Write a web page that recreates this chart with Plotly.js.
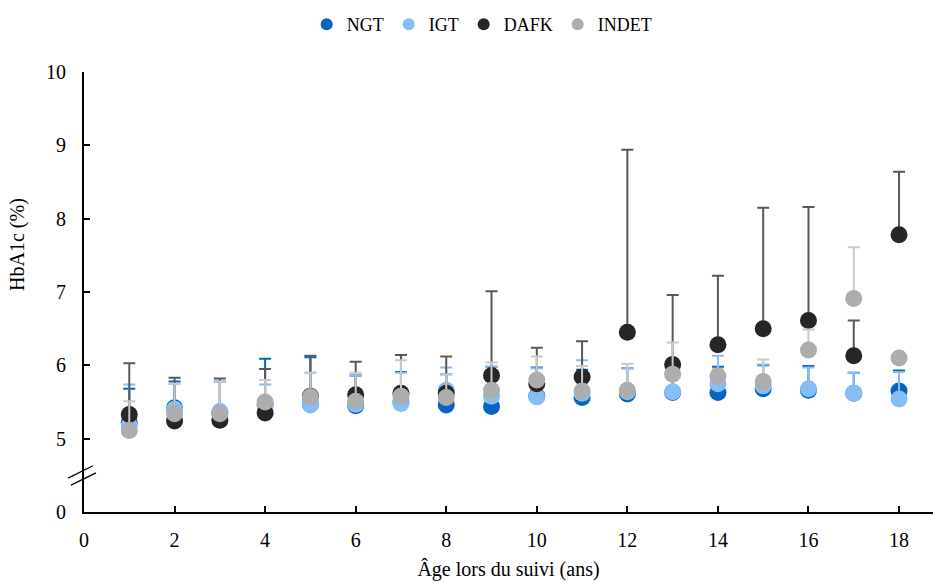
<!DOCTYPE html>
<html>
<head>
<meta charset="utf-8">
<script src="https://cdn.plot.ly/plotly-3.0.1.min.js"></script>
<style>html,body{margin:0;padding:0;background:#fff;}#chart{width:933px;height:582px;}</style>
</head>
<body>
<div id="chart"></div>
<script>
// Ages (x)
const ages = [1,2,3,4,5,6,7,8,9,10,11,12,13,14,15,16,17,18];

// Mean HbA1c (%) per group
const ngt   = [5.22,5.42,5.35,5.46,5.47,5.45,5.50,5.46,5.44,5.58,5.56,5.61,5.63,5.63,5.68,5.66,5.62,5.65];
const igt   = [5.18,5.40,5.37,5.45,5.46,5.47,5.48,5.66,5.58,5.57,5.62,5.64,5.64,5.75,5.72,5.68,5.62,5.54];
const dafk  = [5.33,5.24,5.25,5.35,5.58,5.60,5.62,5.62,5.86,5.75,5.84,6.45,6.01,6.28,6.50,6.61,6.13,7.78];
const indet = [5.11,5.34,5.34,5.50,5.57,5.51,5.58,5.56,5.66,5.80,5.65,5.66,5.88,5.85,5.78,6.21,6.91,6.10];

// Upper error (SD) per group
const ngtErr   = [0.46,0.36,0.43,0.63,0.64,0.41,0.41,0.42,0.54,0.39,0.38,0.35,0.27,0.35,0.32,0.33,0.28,0.28];
const igtErr   = [0.56,0.35,0.41,0.29,0.44,0.39,0.42,0.31,0.40,0.39,0.45,0.32,0.26,0.38,0.29,0.29,0.28,0.37];
const dafkErr  = [0.70,0.59,0.57,0.60,0.55,0.45,0.52,0.50,1.15,0.49,0.49,2.49,0.95,0.94,1.65,1.55,0.48,0.86];
const indetErr = [0.40,0.41,0.44,0.30,0.33,0.39,0.49,0.32,0.38,0.32,0.34,0.36,0.43,0.10,0.30,0.28,0.70,0.00];

// Axis ticks (broken axis: the bottom tick is labelled 0)
const yTickVals = [4,5,6,7,8,9,10];
const yTickText = ["0","5","6","7","8","9","10"];
const xTickVals = [0,2,4,6,8,10,12,14,16,18];

const FONT = "Liberation Serif, Times New Roman, serif";

function series(name, y, err, color, errColor) {
  return {
    type: "scatter", mode: "markers", name: name,
    x: ages, y: y,
    marker: {color: color, size: 17, line: {width: 0}},
    error_y: {type: "data", symmetric: false, array: err,
              arrayminus: err.map(() => 0),
              color: errColor, thickness: 2, width: 6},
    cliponaxis: false
  };
}

const data = [
  series("NGT",   ngt,   ngtErr,   "#0563C1", "#0563C1"),
  series("IGT",   igt,   igtErr,   "#86BDF4", "#86BDF4"),
  series("DAFK",  dafk,  dafkErr,  "#262626", "#595959"),
  series("INDET", indet, indetErr, "#ADADAD", "#C9C9C9")
];

const layout = {
  width: 933, height: 582,
  margin: {l: 84, r: 0, t: 72, b: 70, autoexpand: false},
  paper_bgcolor: "#ffffff", plot_bgcolor: "#ffffff",
  font: {family: FONT, size: 20, color: "#000"},
  showlegend: true,
  legend: {orientation: "h", x: 0.469, xanchor: "center",
           y: 1.15, yanchor: "top", font: {family: FONT, size: 18, color: "#000"},
           itemsizing: "constant", traceorder: "normal", itemwidth: 30},
  xaxis: {
    range: [0, 18.75], tickvals: xTickVals, ticks: "inside", ticklen: 6, tickwidth: 2,
    tickcolor: "#000", showline: true, linecolor: "#000", linewidth: 2,
    showgrid: false, zeroline: false, ticklabelstandoff: 9,
    tickfont: {family: FONT, size: 20, color: "#000"},
    title: {text: "Âge lors du suivi (ans)", font: {family: FONT, size: 20, color: "#000"}, standoff: 12}
  },
  yaxis: {
    range: [4, 10], tickvals: yTickVals, ticktext: yTickText, ticks: "inside", ticklen: 6, tickwidth: 2,
    tickcolor: "#000", showline: true, linecolor: "#000", linewidth: 2,
    showgrid: false, zeroline: false, ticklabelstandoff: 12,
    tickfont: {family: FONT, size: 20, color: "#000"}
  },
  annotations: [{
    text: "HbA1c (%)", textangle: -90, showarrow: false,
    xref: "paper", yref: "paper", x: 0, xshift: -66, y: 0.607,
    xanchor: "center", yanchor: "middle",
    font: {family: FONT, size: 20, color: "#000"}
  }],
  shapes: [
    {type: "line", xref: "paper", yref: "paper", x0: -0.0188, x1: 0.0106, y0: 0.077, y1: 0.105,
     line: {color: "#000", width: 1.2}},
    {type: "line", xref: "paper", yref: "paper", x0: -0.0153, x1: 0.0141, y0: 0.061, y1: 0.089,
     line: {color: "#000", width: 1.2}}
  ]
};

Plotly.newPlot("chart", data, layout, {displayModeBar: false, staticPlot: true});
</script>
</body>
</html>
